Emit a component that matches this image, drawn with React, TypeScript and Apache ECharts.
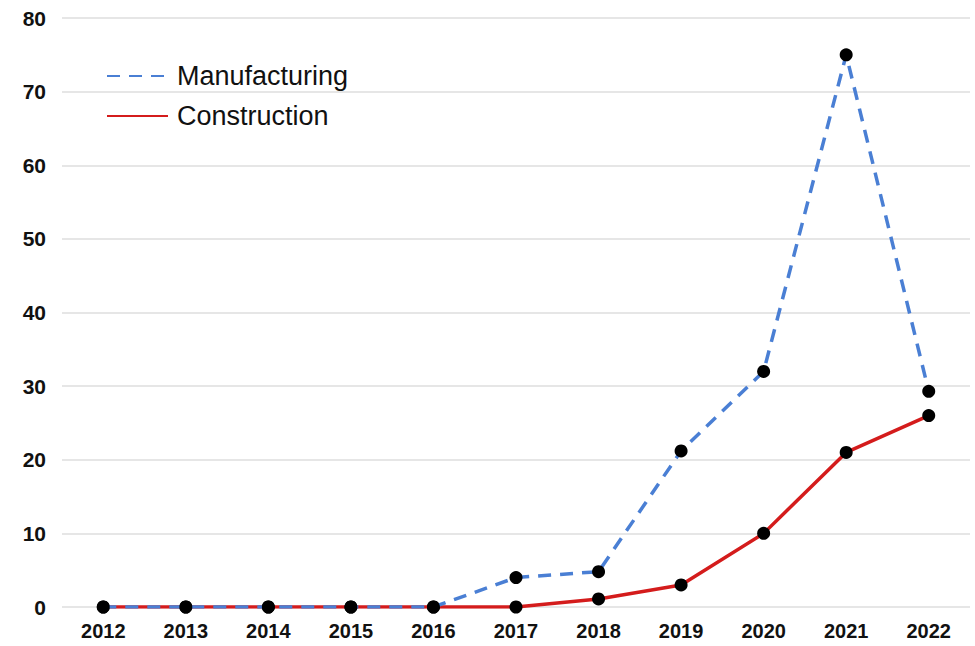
import React, { useEffect, useRef } from "react";
import * as echarts from "echarts";

const years = ["2012", "2013", "2014", "2015", "2016", "2017", "2018", "2019", "2020", "2021", "2022"];
const manufacturing = [0, 0, 0, 0, 0, 4, 4.8, 21.2, 32, 75, 29.3];
const construction = [0, 0, 0, 0, 0, 0, 1.1, 3, 10, 21, 26];

export default function App() {
  const ref = useRef<HTMLDivElement>(null);
  useEffect(() => {
    const chart = echarts.init(ref.current!, null, { renderer: "svg" });
    const font = "'Liberation Sans', Arial, sans-serif";
    chart.setOption({
      animation: false,
      backgroundColor: "#ffffff",
      grid: { left: 62, right: 5, top: 18, bottom: 39 },
      legend: {
        orient: "vertical",
        left: 101,
        top: 57,
        itemWidth: 61,
        itemHeight: 14,
        itemGap: 12,
        data: ["Manufacturing", "Construction"],
        textStyle: { fontSize: 27, lineHeight: 28, fontFamily: font, color: "#111", padding: [0, 0, 0, 4] },
        itemStyle: { opacity: 0 },
      },
      xAxis: {
        type: "category",
        data: years,
        boundaryGap: true,
        axisLine: { show: false },
        axisTick: { show: false },
        axisLabel: { fontSize: 20, fontWeight: "bold", fontFamily: font, color: "#111", margin: 14 },
      },
      yAxis: {
        type: "value",
        min: 0,
        max: 80,
        interval: 10,
        axisLine: { show: false },
        axisTick: { show: false },
        splitLine: { lineStyle: { color: "#e6e6e6", width: 2 } },
        axisLabel: { fontSize: 21, fontWeight: "bold", fontFamily: font, color: "#111", margin: 16 },
      },
      series: [
        {
          name: "Construction",
          type: "line",
          data: construction,
          symbol: "circle",
          symbolSize: 13,
          itemStyle: { color: "#000" },
          lineStyle: { color: "#d41c1c", width: 3.5 },
          z: 2,
        },
        {
          name: "Manufacturing",
          type: "line",
          data: manufacturing,
          symbol: "circle",
          symbolSize: 13,
          itemStyle: { color: "#000" },
          lineStyle: { color: "#4a7fd4", width: 3.5, type: [13, 9] },
          z: 3,
        },
      ],
    });
    return () => chart.dispose();
  }, []);
  return <div ref={ref} style={{ width: 975, height: 646, position: "absolute", left: 0, top: 0 }} />;
}
